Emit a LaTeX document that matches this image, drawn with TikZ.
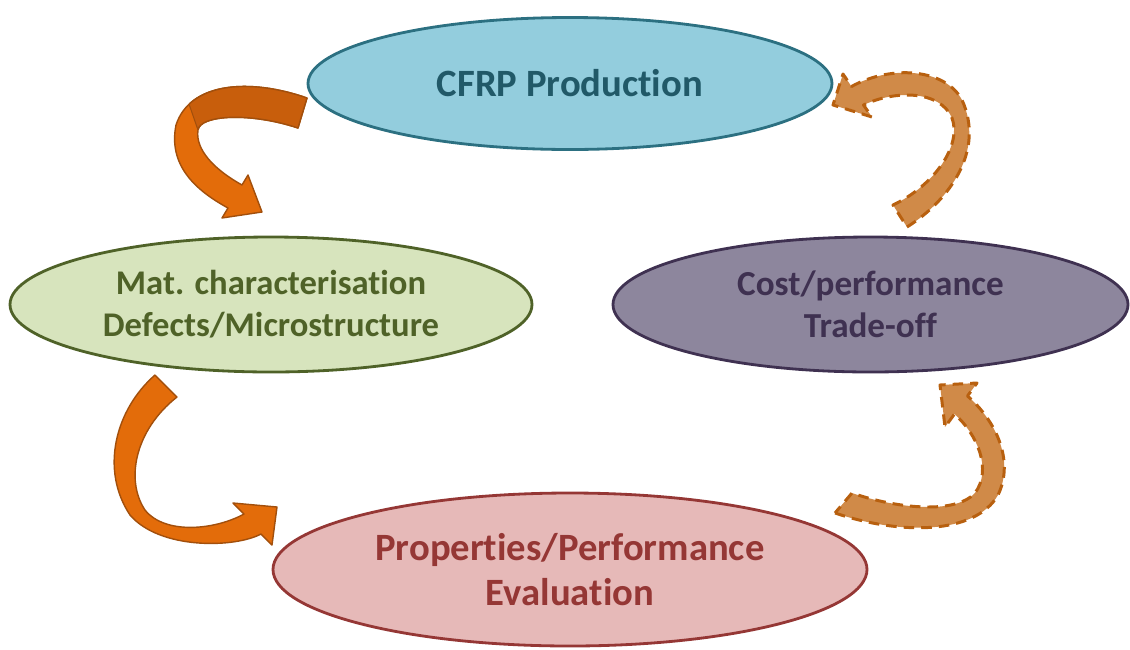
\documentclass[tikz,border=0pt]{standalone}
\usepackage{fontspec}
\setmainfont{Carlito}[Ligatures=CommonOff]
\usepackage{tikz}
\usetikzlibrary{shapes.geometric}
\definecolor{prodfill}{HTML}{93CDDD}
\definecolor{prodline}{HTML}{2C7081}
\definecolor{prodtext}{HTML}{215968}
\definecolor{charfill}{HTML}{D7E4BD}
\definecolor{charline}{HTML}{4F6228}
\definecolor{costfill}{HTML}{8D869D}
\definecolor{costline}{HTML}{3F3151}
\definecolor{evalfill}{HTML}{E6B9B8}
\definecolor{evalline}{HTML}{953735}
\definecolor{flowc}{HTML}{E36C0A}
\definecolor{flowback}{HTML}{C85E0C}
\definecolor{flowedge}{HTML}{A24F0C}
\definecolor{backc}{HTML}{D08A48}
\definecolor{backedge}{HTML}{B8600F}
\tikzset{
  stage/.style={ellipse, line width=1.6pt, inner sep=0pt, align=center, font=\bfseries},
  flow/.style={fill=flowc, draw=flowedge, line width=0.8pt, line join=round},
  backflow/.style={fill=backc, draw=backedge, line width=1.7pt, dash pattern=on 6pt off 4pt, line join=round},
}
\begin{document}
\begin{tikzpicture}[baseline=0pt]
\useasboundingbox (0,0) rectangle (22.600,-12.980);
% forward arrows, solid
\draw[flow] (6.140,-1.960) .. controls (5.000,-1.560) and (3.800,-1.640) .. (3.520,-2.500) .. controls (3.360,-3.300) and (3.900,-3.800) .. (4.560,-4.160) -- (4.440,-4.360) -- (5.240,-4.240) -- (4.960,-3.500) -- (4.840,-3.700) .. controls (4.300,-3.400) and (3.900,-3.000) .. (3.960,-2.600) .. controls (4.000,-2.300) and (5.000,-2.240) .. (5.960,-2.560) -- cycle;
% back face of the twisted ribbon
\begin{scope}
\clip (3.700,-1.400) -- (3.780,-2.080) -- (3.960,-2.600) -- (6.400,-2.700) -- (6.400,-1.400) -- cycle;
\draw[flow, fill=flowback] (6.140,-1.960) .. controls (5.000,-1.560) and (3.800,-1.640) .. (3.520,-2.500) .. controls (3.360,-3.300) and (3.900,-3.800) .. (4.560,-4.160) -- (4.440,-4.360) -- (5.240,-4.240) -- (4.960,-3.500) -- (4.840,-3.700) .. controls (4.300,-3.400) and (3.900,-3.000) .. (3.960,-2.600) .. controls (4.000,-2.300) and (5.000,-2.240) .. (5.960,-2.560) -- cycle;
\end{scope}
\draw[flowedge, line width=0.6pt] (3.780,-2.080) -- (3.960,-2.600);
\draw[flow] (3.100,-7.500) .. controls (2.300,-8.200) and (2.000,-9.400) .. (2.600,-10.300) .. controls (3.200,-11.000) and (4.700,-10.960) .. (5.220,-10.680) -- (5.440,-10.900) -- (5.540,-10.140) -- (4.660,-10.060) -- (4.880,-10.280) .. controls (4.300,-10.600) and (3.300,-10.700) .. (2.900,-10.200) .. controls (2.500,-9.600) and (2.700,-8.600) .. (3.540,-7.940) -- cycle;
% return arrows, dashed
\draw[backflow] (18.140,-4.540) .. controls (19.000,-4.000) and (19.700,-3.000) .. (19.240,-2.000) .. controls (18.900,-1.360) and (17.800,-1.300) .. (17.030,-1.730) -- (16.860,-1.480) -- (16.660,-2.100) -- (17.440,-2.340) -- (17.270,-2.100) .. controls (17.900,-1.800) and (18.800,-1.800) .. (19.040,-2.360) .. controls (19.240,-2.900) and (18.700,-3.700) .. (17.860,-4.100) -- cycle;
\draw[backflow] (16.700,-10.260) .. controls (18.000,-10.700) and (19.500,-10.700) .. (19.960,-9.900) .. controls (20.300,-9.200) and (19.900,-8.400) .. (19.350,-7.920) -- (19.540,-7.660) -- (18.800,-7.700) -- (18.900,-8.540) -- (19.090,-8.280) .. controls (19.560,-8.700) and (19.840,-9.400) .. (19.500,-9.860) .. controls (19.100,-10.300) and (17.900,-10.160) .. (17.040,-9.860) -- cycle;
% stages
\node[stage, draw=prodline, fill=prodfill, text=prodtext, minimum width=10.48cm, minimum height=2.64cm, font=\bfseries\fontsize{22}{26}\selectfont] (prod) at (11.400,-1.670) {CFRP Production};
\node[stage, draw=charline, fill=charfill, text=charline, minimum width=10.44cm, minimum height=2.70cm, font=\bfseries\fontsize{19.7}{24}\selectfont] (char) at (5.420,-6.090) {Mat. characterisation\\Defects/Microstructure};
\node[stage, draw=costline, fill=costfill, text=costline, minimum width=10.30cm, minimum height=2.70cm, font=\bfseries\fontsize{20}{23.6}\selectfont] (cost) at (17.410,-6.090) {Cost/performance\\Trade-off};
\node[stage, draw=evalline, fill=evalfill, text=evalline, minimum width=11.88cm, minimum height=3.06cm, font=\bfseries\fontsize{22}{25.6}\selectfont] (eval) at (11.400,-11.390) {Properties/Performance\\Evaluation};
\end{tikzpicture}
\end{document}
